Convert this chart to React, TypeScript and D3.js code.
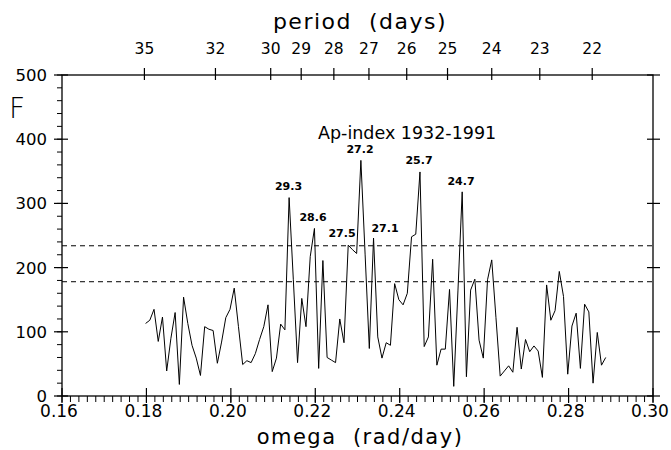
import React from 'react';
import * as d3 from 'd3';

const omega = [
  0.1798, 0.1808, 0.1818, 0.1828, 0.1838, 0.1848, 0.1858, 0.1868, 0.1878, 0.1888,
  0.1898, 0.1908, 0.1918, 0.1928, 0.1938, 0.1948, 0.1958, 0.1968, 0.1978, 0.1988,
  0.1998, 0.2008, 0.2018, 0.2028, 0.2038, 0.2048, 0.2058, 0.2068, 0.2078, 0.2088,
  0.2098, 0.2108, 0.2118, 0.2128, 0.2138, 0.2148, 0.2158, 0.2168, 0.2178, 0.2188,
  0.2198, 0.2208, 0.2218, 0.2228, 0.2238, 0.2248, 0.2258, 0.2268, 0.2278, 0.2288,
  0.2298, 0.2308, 0.2318, 0.2328, 0.2338, 0.2348, 0.2358, 0.2368, 0.2378, 0.2388,
  0.2398, 0.2408, 0.2418, 0.2428, 0.2438, 0.2448, 0.2458, 0.2468, 0.2478, 0.2488,
  0.2498, 0.2508, 0.2518, 0.2528, 0.2538, 0.2548, 0.2558, 0.2568, 0.2578, 0.2588,
  0.2598, 0.2608, 0.2618, 0.2628, 0.2638, 0.2648, 0.2658, 0.2668, 0.2678, 0.2688,
  0.2698, 0.2708, 0.2718, 0.2728, 0.2738, 0.2748, 0.2758, 0.2768, 0.2778, 0.2788,
  0.2798, 0.2808, 0.2818, 0.2828, 0.2838, 0.2848, 0.2858, 0.2868, 0.2878, 0.2888,
];

const Fvalues = [
  113, 118, 135, 85, 123, 39, 90, 130, 18, 154,
  113, 79, 59, 32, 108, 104, 102, 51, 84, 122,
  135, 168, 108, 49, 55, 52, 66, 88, 108, 142,
  38, 59, 112, 103, 309, 181, 52, 152, 108, 217,
  261, 43, 211, 60, 56, 52, 120, 83, 235, 228,
  222, 367, 221, 74, 246, 92, 59, 83, 79, 175,
  150, 142, 160, 248, 252, 349, 77, 92, 213, 48,
  73, 73, 166, 15, 165, 318, 30, 165, 182, 87,
  59, 181, 212, 122, 31, 39, 47, 37, 107, 42,
  88, 69, 78, 70, 29, 173, 118, 133, 194, 155,
  34, 109, 129, 43, 143, 131, 20, 99, 48, 60,
];

const yTicks = [0, 100, 200, 300, 400, 500];
const xTicks = [0.16, 0.18, 0.2, 0.22, 0.24, 0.26, 0.28, 0.3];
const periodTicks = [35, 32, 30, 29, 28, 27, 26, 25, 24, 23, 22];
const thresholds = [234, 178];
const peakLabels = ['29.3', '28.6', '27.5', '27.2', '27.1', '25.7', '24.7'];
const peakLabelOmega = [0.21366, 0.21946, 0.22633, 0.2306, 0.23652, 0.24458, 0.25453];
const peakLabelF = [321, 273, 248, 379, 255, 361, 329];

const W = 671;
const H = 450;
const M = { left: 62, right: 653, top: 75, bottom: 396 };
const FONT = '"DejaVu Sans", sans-serif';

export default function App() {
  const x = d3.scaleLinear().domain([0.16, 0.3]).range([M.left, M.right]);
  const y = d3.scaleLinear().domain([0, 500]).range([M.bottom, M.top]);
  const line = d3
    .line<number>()
    .x((_, i) => x(omega[i]))
    .y((d) => y(d));

  const minorX = d3.range(0, 71).map((i) => 0.16 + i * 0.002);
  const minorY = d3.range(0, 26).map((i) => i * 20);

  return (
    <svg
      width={W}
      height={H}
      style={{ position: 'absolute', left: 0, top: 0, background: '#fff' }}
      fontFamily={FONT}
    >
      <rect x={0} y={0} width={W} height={H} fill="#fff" />
      <rect
        x={M.left}
        y={M.top}
        width={M.right - M.left}
        height={M.bottom - M.top}
        fill="none"
        stroke="#000"
        strokeWidth={1.3}
      />
      {minorY.map((v) => (
        <line key={'ly' + v} x1={M.left - 5} x2={M.left} y1={y(v)} y2={y(v)} stroke="#000" strokeWidth={1} />
      ))}
      {yTicks.map((v) => (
        <g key={'yt' + v}>
          <line x1={M.left - 8} x2={M.left + 6} y1={y(v)} y2={y(v)} stroke="#000" strokeWidth={1.2} />
          <line x1={M.right - 6} x2={M.right + 7} y1={y(v)} y2={y(v)} stroke="#000" strokeWidth={1.2} />
          <text x={47} y={y(v) + 6} textAnchor="end" fontSize={16.5}>
            {v}
          </text>
        </g>
      ))}
      {minorX.map((v, i) => (
        <line key={'mx' + i} x1={x(v)} x2={x(v)} y1={M.bottom} y2={M.bottom + 6} stroke="#000" strokeWidth={1} />
      ))}
      {xTicks.map((v) => (
        <g key={'xt' + v}>
          <line x1={x(v)} x2={x(v)} y1={M.bottom - 8} y2={M.bottom + 7} stroke="#000" strokeWidth={1.2} />
          <text x={x(v) - 3} y={417} textAnchor="middle" fontSize={17}>
            {v.toFixed(2)}
          </text>
        </g>
      ))}
      {periodTicks.map((p) => {
        const px = x((2 * Math.PI) / p);
        return (
          <g key={'pt' + p}>
            <line x1={px} x2={px} y1={M.top - 7} y2={M.top + 5} stroke="#000" strokeWidth={1.2} />
            <text x={px} y={54} textAnchor="middle" fontSize={15.5}>
              {p}
            </text>
          </g>
        );
      })}
      {thresholds.map((t) => (
        <line
          key={'th' + t}
          x1={M.left}
          x2={M.right}
          y1={y(t)}
          y2={y(t)}
          stroke="#000"
          strokeWidth={1}
          strokeDasharray="5,4"
        />
      ))}
      <path d={line(Fvalues) || ''} fill="none" stroke="#000" strokeWidth={1} strokeLinejoin="miter" />
      {peakLabels.map((s, i) => (
        <text
          key={'pk' + i}
          x={x(peakLabelOmega[i])}
          y={y(peakLabelF[i])}
          textAnchor="middle"
          fontSize={11}
          fontWeight="bold"
        >
          {s}
        </text>
      ))}
      <text x={318} y={139} fontSize={17.5}>
        Ap-index 1932-1991
      </text>
      <text x={9} y={118} fontSize={28} fontWeight={300}>
        F
      </text>
      <text x={360} y={29} textAnchor="middle" fontSize={22} letterSpacing={1.5} style={{ whiteSpace: 'pre' }}>
        {'period  (days)'}
      </text>
      <text x={360} y={444} textAnchor="middle" fontSize={21} letterSpacing={1.5} style={{ whiteSpace: 'pre' }}>
        {'omega  (rad/day)'}
      </text>
    </svg>
  );
}
